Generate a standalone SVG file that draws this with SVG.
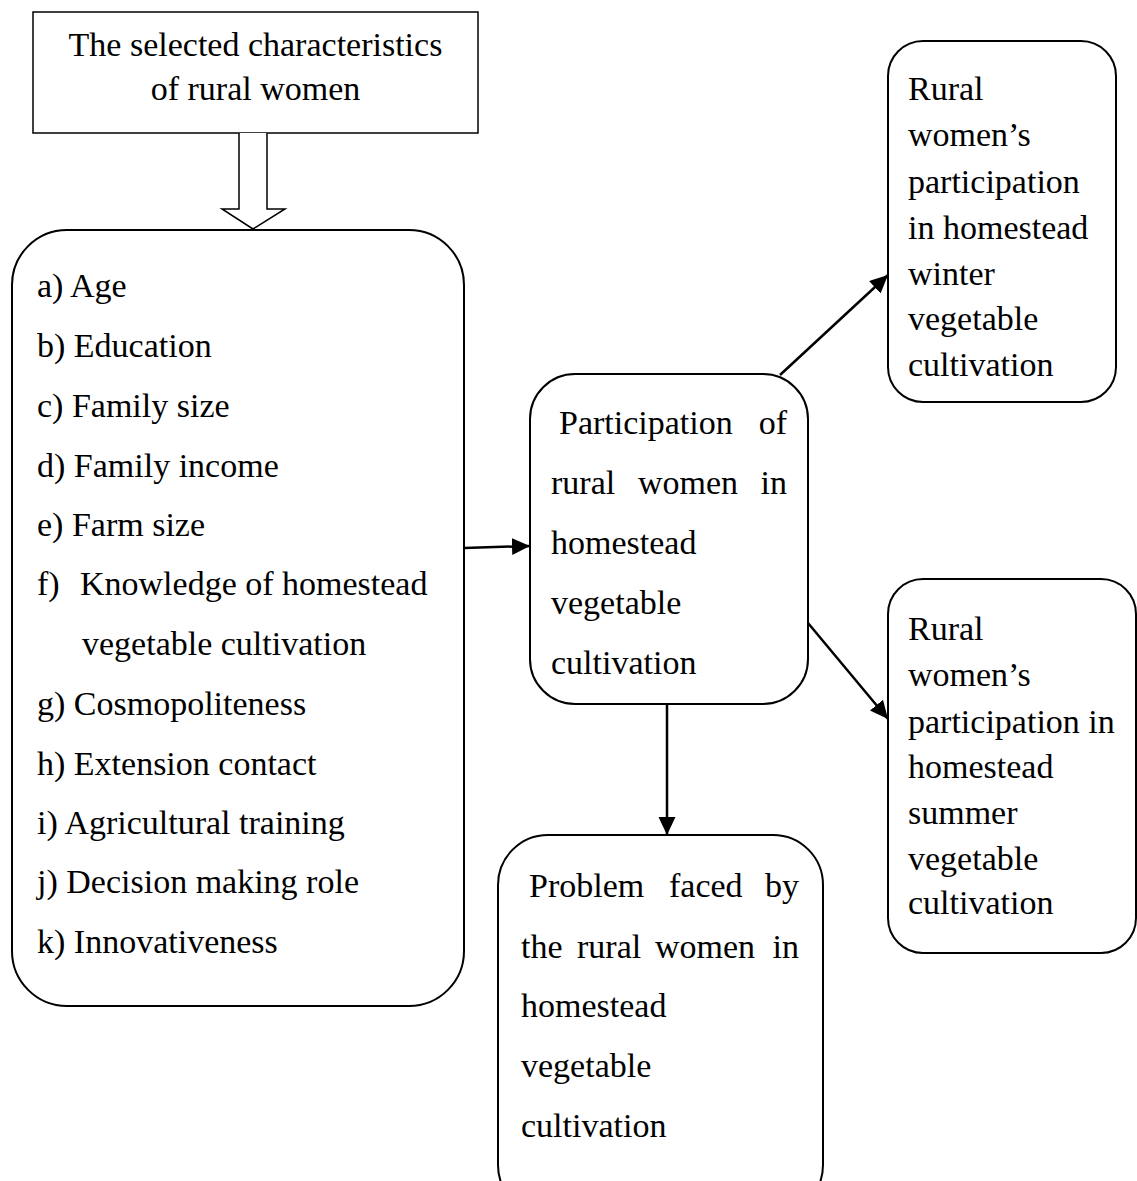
<svg xmlns="http://www.w3.org/2000/svg" width="1137" height="1181" viewBox="0 0 1137 1181">
<style>
text { font-family: "Liberation Serif", "Times New Roman", serif; font-size: 34px; fill: #000; }
.box { fill: #fff; stroke: #000; stroke-width: 2; }
.conn { stroke: #000; stroke-width: 2.5; fill: none; }
.end { text-anchor: end; }
.mid { text-anchor: middle; }
</style>
<defs>
<marker id="ah" markerUnits="userSpaceOnUse" markerWidth="20" markerHeight="20" refX="18" refY="8.5" orient="auto" viewBox="0 0 20 20">
<path d="M0,0 L18,8.5 L0,17 z" fill="#000"/>
</marker>
</defs>
<rect width="1137" height="1181" fill="#fff"/>

<g id="top-box">
<rect x="33" y="12" width="445" height="121" fill="#fff" stroke="#000" stroke-width="1.5"/>
<text x="255.5" y="56" class="mid">The selected characteristics</text>
<text x="255.5" y="100" class="mid">of rural women</text>
</g>

<g id="hollow-arrow">
<path d="M239,133 L239,209 L222,209 L253,229 L285,209 L267,209 L267,133" fill="#fff" stroke="#000" stroke-width="1.5"/>
</g>

<g id="characteristics">
<rect x="12" y="230" width="452" height="776" rx="55" ry="55" class="box"/>
<text x="37" y="297">a) Age</text>
<text x="37" y="357">b) Education</text>
<text x="37" y="417">c) Family size</text>
<text x="37" y="477">d) Family income</text>
<text x="37" y="536">e) Farm size</text>
<text x="37" y="595">f)<tspan x="80">Knowledge of homestead</tspan></text>
<text x="82" y="655">vegetable cultivation</text>
<text x="37" y="715">g) Cosmopoliteness</text>
<text x="37" y="775">h) Extension contact</text>
<text x="37" y="834">i) Agricultural training</text>
<text x="37" y="893">j) Decision making role</text>
<text x="37" y="953">k) Innovativeness</text>
</g>

<g id="participation">
<rect x="530" y="374" width="278" height="330" rx="45" ry="45" class="box"/>
<text x="559" y="434">Participation</text>
<text x="787" y="434" class="end">of</text>
<text x="551" y="494">rural</text>
<text x="638" y="494">women</text>
<text x="787" y="494" class="end">in</text>
<text x="551" y="554">homestead</text>
<text x="551" y="614">vegetable</text>
<text x="551" y="674">cultivation</text>
</g>

<g id="winter">
<rect x="888" y="41" width="228" height="361" rx="35" ry="35" class="box"/>
<text x="908" y="100">Rural</text>
<text x="908" y="146">women’s</text>
<text x="908" y="193">participation</text>
<text x="908" y="239">in homestead</text>
<text x="908" y="285">winter</text>
<text x="908" y="330">vegetable</text>
<text x="908" y="376">cultivation</text>
</g>

<g id="summer">
<rect x="888" y="579" width="248" height="374" rx="35" ry="35" class="box"/>
<text x="908" y="640">Rural</text>
<text x="908" y="686">women’s</text>
<text x="908" y="733">participation in</text>
<text x="908" y="778">homestead</text>
<text x="908" y="824">summer</text>
<text x="908" y="870">vegetable</text>
<text x="908" y="914">cultivation</text>
</g>

<g id="problem">
<rect x="498" y="835" width="325" height="380" rx="50" ry="50" class="box"/>
<text x="529" y="897">Problem</text>
<text x="669" y="897">faced</text>
<text x="799" y="897" class="end">by</text>
<text x="521" y="958">the</text>
<text x="577" y="958">rural</text>
<text x="655" y="958">women</text>
<text x="799" y="958" class="end">in</text>
<text x="521" y="1017">homestead</text>
<text x="521" y="1077">vegetable</text>
<text x="521" y="1137">cultivation</text>
</g>

<g id="connectors">
<line x1="464" y1="548" x2="530" y2="546" class="conn" marker-end="url(#ah)"/>
<line x1="780" y1="375" x2="888" y2="275" class="conn" marker-end="url(#ah)"/>
<line x1="808" y1="623" x2="888" y2="719" class="conn" marker-end="url(#ah)"/>
<line x1="667" y1="704" x2="667" y2="835" class="conn" marker-end="url(#ah)"/>
</g>
</svg>
